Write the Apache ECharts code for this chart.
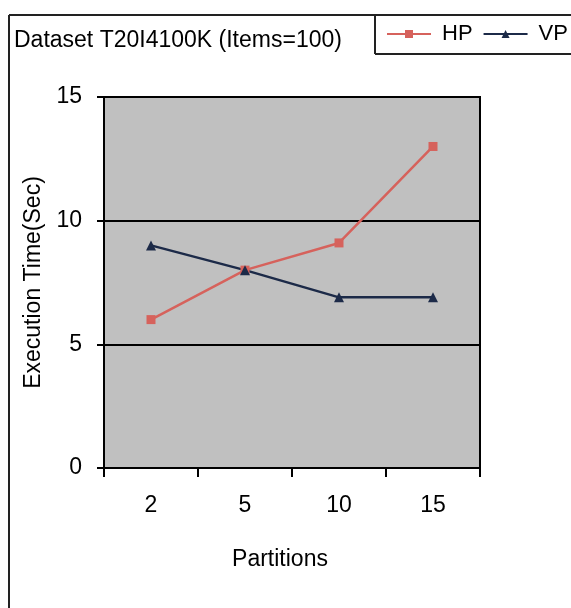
<!DOCTYPE html>
<html><head><meta charset="utf-8">
<script src="https://cdn.jsdelivr.net/npm/echarts@6/dist/echarts.min.js"></script>
<style>html,body{margin:0;padding:0;background:#fff}#c{width:571px;height:608px}</style>
</head><body><div id="c"></div>
<script>
const titleText = 'Dataset T20I4100K (Items=100)';
const categories = ['2', '5', '10', '15'];
const hpValues = [6, 8, 9.1, 13];
const vpValues = [9, 8, 6.9, 6.9];
const seriesNames = ['HP', 'VP'];
const xAxisName = 'Partitions';
const yAxisName = 'Execution Time(Sec)';

const FONT = '"Liberation Sans", Arial, sans-serif';
const chart = echarts.init(document.getElementById('c'), null, {renderer: 'canvas'});
chart.setOption({
  backgroundColor: '#ffffff',
  animation: false,
  title: {
    text: titleText, left: 14, top: 29, padding: 0,
    textStyle: {fontFamily: FONT, fontSize: 23, fontWeight: 'normal', color: '#000'}
  },
  legend: {
    data: seriesNames, orient: 'horizontal', left: 386, top: 23, padding: 0, itemGap: 10,
    itemWidth: 44, itemHeight: 10,
    textStyle: {fontFamily: FONT, fontSize: 22, color: '#000', padding: [0, 0, 0, 6]}
  },
  graphic: [
    {type: 'line', shape: {x1: 9, y1: 15, x2: 571, y2: 15}, style: {stroke: '#222', lineWidth: 2}},
    {type: 'line', shape: {x1: 9, y1: 15, x2: 9, y2: 608}, style: {stroke: '#222', lineWidth: 2}},
    {type: 'line', shape: {x1: 375, y1: 15, x2: 375, y2: 54}, style: {stroke: '#222', lineWidth: 2}},
    {type: 'line', shape: {x1: 375, y1: 54, x2: 571, y2: 54}, style: {stroke: '#222', lineWidth: 2}}
  ],
  grid: {
    left: 104, right: 91, top: 97, bottom: 140, containLabel: false,
    show: true, backgroundColor: '#c0c0c0', borderColor: '#000', borderWidth: 2
  },
  xAxis: {
    type: 'category', data: categories, boundaryGap: true,
    name: xAxisName, nameLocation: 'middle', nameGap: 80,
    nameTextStyle: {fontFamily: FONT, fontSize: 23, color: '#000', padding: [0, 24, 0, 0]},
    axisLine: {show: true, lineStyle: {color: '#000', width: 2}},
    axisTick: {show: true, length: 9, lineStyle: {color: '#000', width: 2}},
    axisLabel: {fontFamily: FONT, fontSize: 23, color: '#000', margin: 26},
    splitLine: {show: false}
  },
  yAxis: {
    type: 'value', min: 0, max: 15, interval: 5,
    name: yAxisName, nameLocation: 'middle', nameGap: 54,
    nameTextStyle: {fontFamily: FONT, fontSize: 23, color: '#000'},
    axisLine: {show: true, lineStyle: {color: '#000', width: 2}},
    axisTick: {show: true, length: 7, lineStyle: {color: '#000', width: 2}},
    axisLabel: {fontFamily: FONT, fontSize: 23, color: '#000', margin: 22},
    splitLine: {show: true, lineStyle: {color: '#000', width: 2}}
  },
  series: [
    {name: 'HP', type: 'line', data: hpValues, symbol: 'rect', symbolSize: 9,
     itemStyle: {color: '#d6625c'}, lineStyle: {color: '#d6625c', width: 2.5}},
    {name: 'VP', type: 'line', data: vpValues, symbol: 'triangle', symbolSize: 10,
     itemStyle: {color: '#1c2a48'}, lineStyle: {color: '#1c2a48', width: 2.5}}
  ]
});
</script></body></html>
